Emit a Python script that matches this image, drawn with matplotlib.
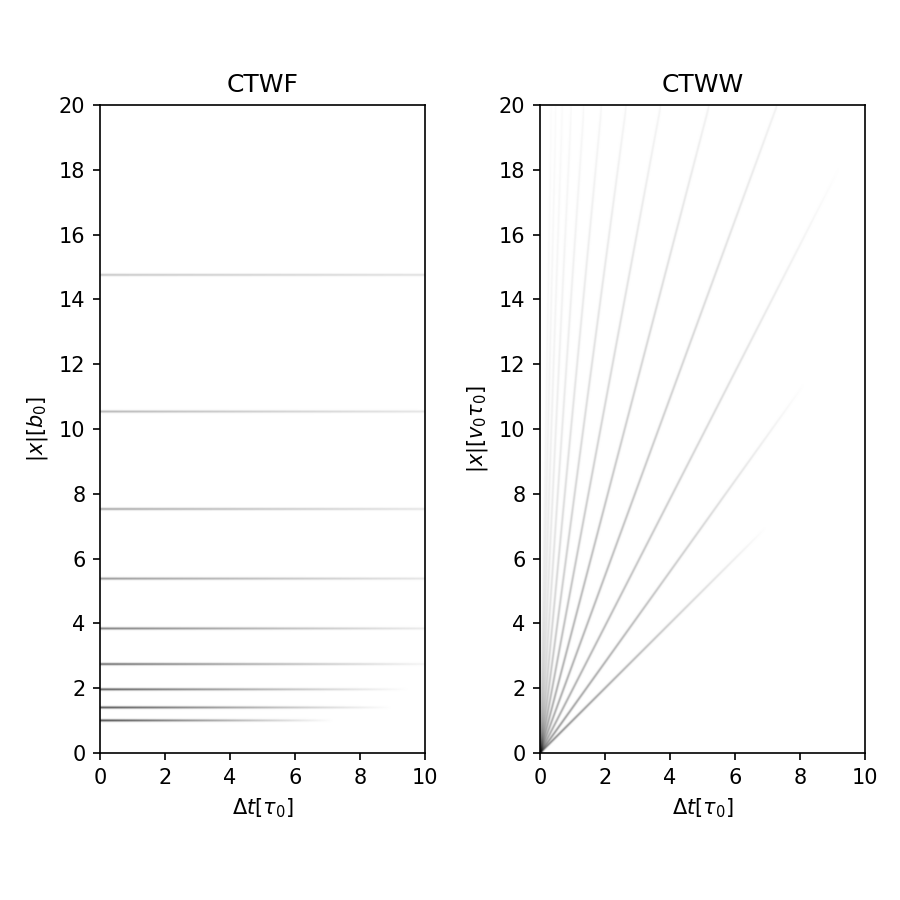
import numpy as np
import matplotlib
matplotlib.use("Agg")
import matplotlib.pyplot as plt

# CTWF: horizontal levels |x| [b0], with opacity at dt=0 and at the end of the trace
levels = [1.0, 1.4, 1.96, 2.74, 3.84, 5.38, 7.53, 10.54, 14.76]
level_alpha_start = [0.68, 0.65, 0.62, 0.56, 0.5, 0.4, 0.34, 0.28, 0.22]
level_alpha_end = [0.0, 0.0, 0.0, 0.04, 0.08, 0.1, 0.1, 0.1, 0.12]
level_dt_end = [7.2, 9.0, 9.5, 10.0, 10.0, 10.0, 10.0, 10.0, 10.0]

# CTWW: rays |x| = v * dt, with opacity at origin and at the end of the ray
ray_slopes = [1.0, 1.4, 1.96, 2.74, 3.84, 5.38, 7.53, 10.54, 14.76, 20.66, 28.93, 40.5, 56.7]
ray_alpha_start = [0.45, 0.4, 0.34, 0.34, 0.34, 0.3, 0.25, 0.2, 0.15, 0.12, 0.1, 0.08, 0.06]
ray_alpha_end = [0.0, 0.0, 0.0, 0.05, 0.05, 0.04, 0.04, 0.035, 0.03, 0.025, 0.02, 0.02, 0.015]
ray_dt_end = [7.0, 8.2, 9.3, None, None, None, None, None, None, None, None, None, None]

x_max = 20
dt_max = 10
width = 0.026  # Linienbreite (sigma) in Dateneinheiten

# Raster fuer die Dichtebilder
tt, xx = np.meshgrid(np.linspace(0, dt_max, 800), np.linspace(0, x_max, 1600))


def line_layer(dist, t, a0, a1, te):
    # Opazitaet faellt linear von a0 auf a1 bis te
    frac = np.clip(t / te, 0, 1)
    a = a0 + (a1 - a0) * frac
    a = np.where(t <= te, a, 0.0)
    return a * np.exp(-0.5 * (dist / width) ** 2)


def build_image(layers):
    keep = np.ones_like(tt)
    for lay in layers:
        keep *= 1 - np.clip(lay, 0, 1)
    return 1 - keep


left_layers = []
for lev, a0, a1, te in zip(levels, level_alpha_start, level_alpha_end, level_dt_end):
    left_layers.append(line_layer(np.abs(xx - lev), tt, a0, a1, te))
img_left = build_image(left_layers)

right_layers = []
for v, a0, a1, te in zip(ray_slopes, ray_alpha_start, ray_alpha_end, ray_dt_end):
    if te is None:
        te = min(dt_max, x_max / v)
    dist = np.abs(xx - v * tt) / np.sqrt(1 + v ** 2)
    right_layers.append(line_layer(dist, tt, a0, a1, te))
img_right = build_image(right_layers)

fig = plt.figure(figsize=(6, 6), dpi=150)
ax1 = fig.add_axes([100 / 900, 147 / 900, 325 / 900, 648 / 900])
ax2 = fig.add_axes([540 / 900, 147 / 900, 325 / 900, 648 / 900])

for ax, img in ((ax1, img_left), (ax2, img_right)):
    ax.imshow(img, cmap="gray_r", vmin=0, vmax=1, origin="lower",
              extent=[0, dt_max, 0, x_max], aspect="auto", interpolation="antialiased")
    ax.set_xlim(0, dt_max)
    ax.set_ylim(0, x_max)
    ax.set_xticks(np.arange(0, 11, 2))
    ax.set_yticks(np.arange(0, 21, 2))
    ax.set_xlabel(r"$\Delta t [\tau_0]$")

ax1.set_title("CTWF")
ax2.set_title("CTWW")
ax1.set_ylabel(r"$|x| [b_0]$")
ax2.set_ylabel(r"$|x| [v_0\tau_0]$")

fig.savefig("out.png", dpi=150)
